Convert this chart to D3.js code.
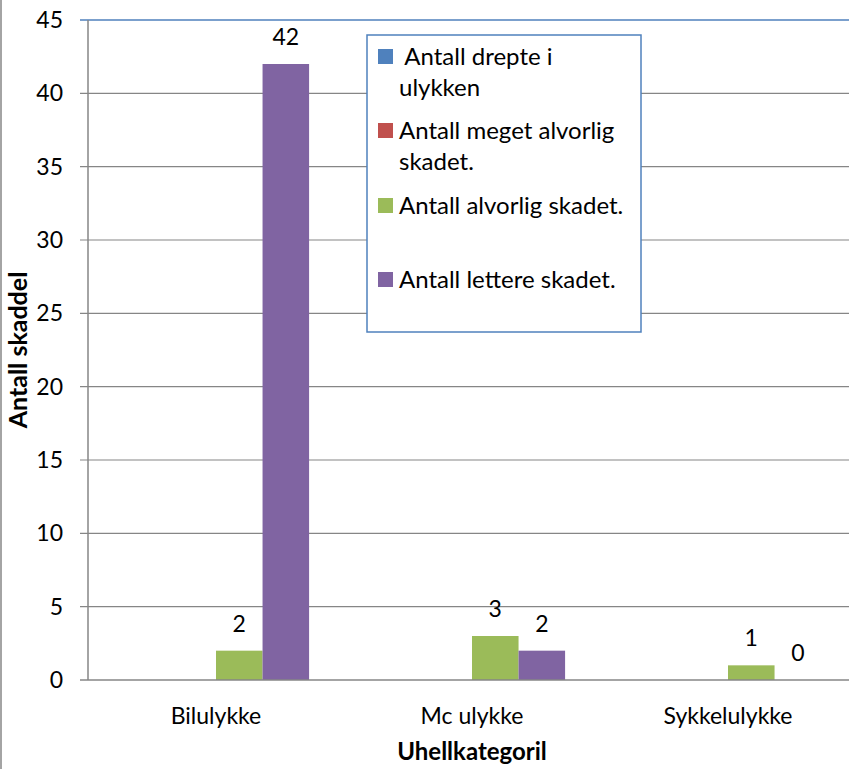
<!DOCTYPE html>
<html><head><meta charset="utf-8">
<script src="https://cdn.jsdelivr.net/npm/d3@7"></script>
<style>body{margin:0;background:#fff;} svg{display:block;font-family:Lato,"Open Sans",sans-serif;}</style>
</head><body>
<svg id="c" width="849" height="769"></svg>
<script>
const categories = ["Bilulykke", "Mc ulykke", "Sykkelulykke"];
const seriesNames = [" Antall drepte i ulykken", "Antall meget alvorlig skadet.", "Antall alvorlig skadet.", "Antall lettere skadet."];
const drepte = [null, null, null];
const megetAlvorlig = [null, null, null];
const alvorlig = [2, 3, 1];
const lettere = [42, 2, 0];
const colors = ["#4F81BD", "#C0504D", "#9BBB59", "#8064A2"];
const yTicks = [0, 5, 10, 15, 20, 25, 30, 35, 40, 45];
const yTitle = "Antall skaddel";
const xTitle = "Uhellkategoril";
const legendLines = [[" Antall drepte i", "ulykken"], ["Antall meget alvorlig", "skadet."], ["Antall alvorlig skadet."], ["Antall lettere skadet."]];

const series = [drepte, megetAlvorlig, alvorlig, lettere];
const svg = d3.select("#c");
const L = 88, R = 856, T = 20, B = 680;
const FS = 23;

// outer frame left edge
svg.append("line").attr("x1", 1).attr("x2", 1).attr("y1", 0).attr("y2", 769).attr("stroke", "#868686").attr("stroke-width", 1.5);

const x = d3.scaleBand().domain(categories).range([L, R]).paddingInner(0).paddingOuter(0);
const y = d3.scaleLinear().domain([0, 45]).range([B, T]);
const inner = d3.scaleBand().domain(d3.range(4)).range([0, x.bandwidth()]).paddingInner(0).paddingOuter(0.75);

// gridlines
svg.append("g").selectAll("line").data(yTicks.filter(t => t > 0)).join("line")
  .attr("x1", L - 8).attr("x2", 849).attr("y1", d => y(d)).attr("y2", d => y(d))
  .attr("stroke", d => d === 45 ? "#4F81BD" : "#868686").attr("stroke-width", d => d === 45 ? 1.5 : 1.2);

// y axis labels
svg.append("g").selectAll("text").data(yTicks).join("text")
  .attr("x", 63).attr("y", d => y(d) + 8).attr("text-anchor", "end")
  .attr("font-size", FS).attr("fill", "#000").text(d => d);

// bars
categories.forEach((c, ci) => {
  series.forEach((s, si) => {
    const v = s[ci];
    if (v === null) return;
    const bx = x(c) + inner(si);
    svg.append("rect").attr("x", bx).attr("width", inner.bandwidth())
      .attr("y", y(v)).attr("height", B - y(v)).attr("fill", colors[si]);
    svg.append("text").attr("x", bx + inner.bandwidth() / 2).attr("y", y(v) - 19)
      .attr("text-anchor", "middle").attr("font-size", FS).attr("fill", "#000").text(v);
  });
});

// axes lines
svg.append("line").attr("x1", L).attr("x2", L).attr("y1", T).attr("y2", B).attr("stroke", "#868686").attr("stroke-width", 1.5);
svg.append("line").attr("x1", L - 8).attr("x2", 849).attr("y1", B).attr("y2", B).attr("stroke", "#868686").attr("stroke-width", 1.5);

// x labels
svg.append("g").selectAll("text").data(categories).join("text")
  .attr("x", d => x(d) + x.bandwidth() / 2).attr("y", 724).attr("text-anchor", "middle")
  .attr("font-size", FS).attr("fill", "#000").text(d => d);

// titles
svg.append("text").attr("x", 472).attr("y", 760).attr("text-anchor", "middle").attr("font-weight", "bold").attr("font-size", 24).text(xTitle);
svg.append("text").attr("transform", "translate(27,350) rotate(-90)").attr("text-anchor", "middle").attr("font-weight", "bold").attr("font-size", 25).text(yTitle);

// legend
const lg = svg.append("g");
lg.append("rect").attr("x", 367).attr("y", 35).attr("width", 274).attr("height", 297).attr("fill", "#fff").attr("stroke", "#4F81BD").attr("stroke-width", 1.5);
const entryY = [64, 138, 213, 287];
legendLines.forEach((lines, i) => {
  lg.append("rect").attr("x", 378).attr("y", entryY[i] - 15).attr("width", 15).attr("height", 15).attr("fill", colors[i]);
  lines.forEach((t, j) => {
    lg.append("text").attr("x", 399).attr("y", entryY[i] + 1 + j * 31).attr("font-size", 24).attr("fill", "#000").attr("xml:space", "preserve").style("white-space", "pre").text(t);
  });
});
</script>
</body></html>
